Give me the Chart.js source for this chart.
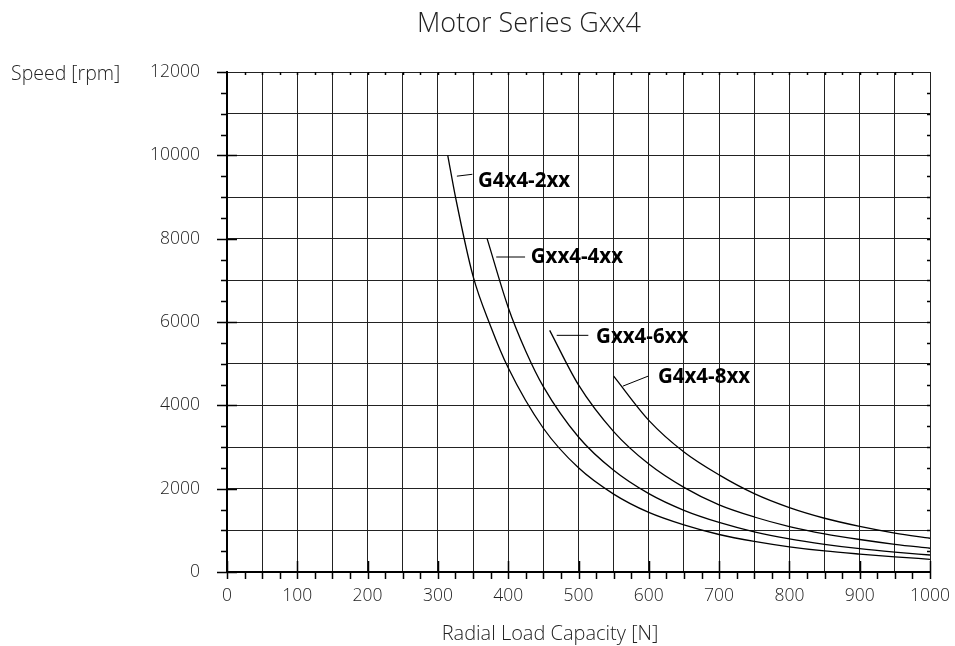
<!DOCTYPE html>
<html>
<head>
<meta charset="utf-8">
<title>Motor Series Gxx4</title>
<script src="https://cdn.jsdelivr.net/npm/chart.js@4.4.1/dist/chart.umd.min.js"></script>
<style>
  html, body { margin: 0; padding: 0; background: #fff; }
  #wrap { width: 955px; height: 646px; }
</style>
</head>
<body>
<div id="wrap"><canvas id="chart" width="955" height="646"></canvas></div>
<script>
// 数据：径向载荷 [N] 与转速 [rpm]
const seriesNames = ['G4x4-2xx', 'Gxx4-4xx', 'Gxx4-6xx', 'G4x4-8xx'];

const load2xx  = [314, 325, 350, 375, 400, 450, 500, 550, 600, 650, 700, 750, 800, 850, 900, 950, 1000];
const speed2xx = [10000, 9000, 7100, 5900, 4900, 3450, 2500, 1870, 1430, 1130, 900, 735, 605, 505, 430, 365, 305];

const load4xx  = [370, 400, 425, 450, 500, 550, 600, 650, 700, 750, 800, 850, 900, 950, 1000];
const speed4xx = [8000, 6350, 5300, 4450, 3240, 2440, 1880, 1480, 1190, 965, 795, 665, 560, 478, 408];

const load6xx  = [459, 500, 550, 600, 650, 700, 750, 800, 850, 900, 950, 1000];
const speed6xx = [5800, 4490, 3370, 2590, 2030, 1610, 1320, 1090, 915, 780, 665, 570];

const load8xx  = [550, 600, 650, 700, 750, 800, 850, 900, 950, 1000];
const speed8xx = [4700, 3640, 2880, 2330, 1880, 1545, 1290, 1095, 935, 810];

const xTicks = [0, 100, 200, 300, 400, 500, 600, 700, 800, 900, 1000];
const yTicks = [0, 2000, 4000, 6000, 8000, 10000, 12000];

// 曲线标签位置（数据坐标）：引线起点、终点、文字位置
const labelSpots = [
    { from: [327, 9500], to: [349, 9545], text: [357, 9370] },
    { from: [383, 7560], to: [424, 7560], text: [432, 7545] },
    { from: [469, 5680], to: [514, 5680], text: [525, 5640] },
    { from: [563, 4460], to: [599, 4700], text: [613, 4672] }
];

const FONT = "'Open Sans', 'Noto Sans', sans-serif";
const TEXT_COLOR = '#222';

function toPoints(xs, ys) {
    return xs.map((x, i) => ({ x: x, y: ys[i] }));
}

const allLoads = [load2xx, load4xx, load6xx, load8xx];
const allSpeeds = [speed2xx, speed4xx, speed6xx, speed8xx];

const datasets = seriesNames.map((name, i) => ({
    label: name,
    data: toPoints(allLoads[i], allSpeeds[i]),
    borderColor: '#000',
    borderWidth: 1.3,
    pointRadius: 0,
    fill: false,
    cubicInterpolationMode: 'monotone'
}));

/**
 * 绘制标题、轴标题、细刻度与曲线标签
 */
const decorPlugin = {
    id: 'decor',
    afterDraw(chart) {
        const ctx = chart.ctx;
        const xs = chart.scales.x;
        const ys = chart.scales.y;
        const area = chart.chartArea;

        ctx.save();
        ctx.strokeStyle = '#000';
        ctx.lineWidth = 1.5;

        // 底部刻度
        ctx.beginPath();
        for (let v = 0; v <= 1000; v += 25) {
            const px = Math.round(xs.getPixelForValue(v)) + 0.5;
            ctx.moveTo(px, area.bottom);
            ctx.lineTo(px, area.bottom + 7);
            if (v % 100 === 0) {
                ctx.moveTo(px, area.bottom);
                ctx.lineTo(px, area.bottom - 11);
            }
        }
        // 顶部细刻度
        for (let v = 25; v < 1000; v += 25) {
            const px = Math.round(xs.getPixelForValue(v)) + 0.5;
            ctx.moveTo(px, area.top);
            ctx.lineTo(px, area.top + 3);
        }
        // 左侧刻度
        for (let v = 0; v <= 12000; v += 500) {
            const py = Math.round(ys.getPixelForValue(v)) + 0.5;
            const big = v % 2000 === 0;
            ctx.moveTo(area.left - (big ? 10 : 6), py);
            ctx.lineTo(area.left + (big && v !== 12000 ? 10 : 0), py);
        }
        // 右侧细刻度
        for (let v = 500; v < 12000; v += 500) {
            const py = Math.round(ys.getPixelForValue(v)) + 0.5;
            ctx.moveTo(area.right, py);
            ctx.lineTo(area.right - 3, py);
        }
        ctx.stroke();

        // 标题与轴标题
        ctx.fillStyle = TEXT_COLOR;
        ctx.textAlign = 'center';
        ctx.textBaseline = 'alphabetic';
        ctx.font = `300 27px ${FONT}`;
        ctx.fillText('Motor Series Gxx4', 529, 32);

        ctx.font = `300 20px ${FONT}`;
        ctx.fillText('Radial Load Capacity [N]', 550, 640);

        ctx.textAlign = 'left';
        ctx.textBaseline = 'middle';
        ctx.font = `300 19.5px ${FONT}`;
        ctx.fillText('Speed [rpm]', 11, ys.getPixelForValue(12000) + 2);

        // 曲线标签
        ctx.fillStyle = '#000';
        ctx.lineWidth = 1;
        ctx.font = `bold 20.5px ${FONT}`;
        labelSpots.forEach((spot, i) => {
            ctx.beginPath();
            ctx.moveTo(xs.getPixelForValue(spot.from[0]), ys.getPixelForValue(spot.from[1]));
            ctx.lineTo(xs.getPixelForValue(spot.to[0]), ys.getPixelForValue(spot.to[1]));
            ctx.stroke();
            ctx.fillText(seriesNames[i], xs.getPixelForValue(spot.text[0]), ys.getPixelForValue(spot.text[1]));
        });

        ctx.restore();
    }
};

const chart = new Chart(document.getElementById('chart'), {
    type: 'line',
    data: { datasets: datasets },
    options: {
        responsive: false,
        devicePixelRatio: 1,
        animation: false,
        layout: {
            padding: { top: 72, right: 25, left: 0, bottom: 0 }
        },
        plugins: {
            legend: { display: false },
            tooltip: { enabled: false }
        },
        scales: {
            x: {
                type: 'linear',
                min: 0,
                max: 1000,
                afterFit(scale) {
                    scale.height = 74;
                    scale.paddingLeft = 0;
                    scale.paddingRight = 0;
                },
                afterBuildTicks(scale) {
                    const t = [];
                    for (let v = 0; v <= 1000; v += 50) t.push({ value: v });
                    scale.ticks = t;
                },
                ticks: {
                    autoSkip: false,
                    maxRotation: 0,
                    padding: 14,
                    color: TEXT_COLOR,
                    font: { family: FONT, size: 17.5, weight: '300' },
                    callback: (v) => xTicks.includes(v) ? String(v) : ''
                },
                grid: { color: '#222', lineWidth: 1, drawTicks: false },
                border: { display: true, color: '#000', width: 2 }
            },
            y: {
                type: 'linear',
                min: 0,
                max: 12000,
                afterFit(scale) {
                    scale.width = 227;
                    scale.paddingTop = 0;
                    scale.paddingBottom = 0;
                },
                afterBuildTicks(scale) {
                    const t = [];
                    for (let v = 0; v <= 12000; v += 1000) t.push({ value: v });
                    scale.ticks = t;
                },
                ticks: {
                    autoSkip: false,
                    padding: 27,
                    color: TEXT_COLOR,
                    font: { family: FONT, size: 17.5, weight: '300' },
                    callback: (v) => yTicks.includes(v) ? String(v) : ''
                },
                grid: { color: '#222', lineWidth: 1, drawTicks: false },
                border: { display: true, color: '#000', width: 2 }
            }
        }
    },
    plugins: [decorPlugin]
});
</script>
</body>
</html>
